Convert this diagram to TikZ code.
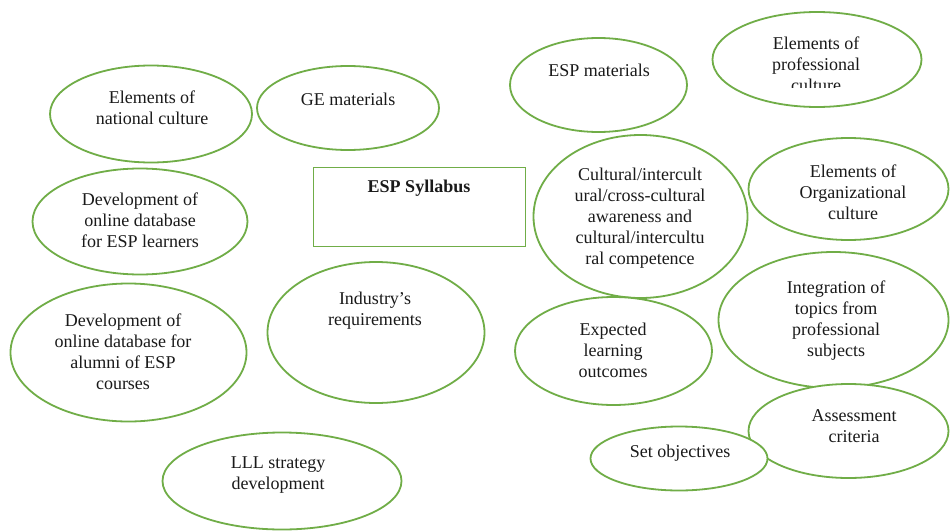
\documentclass[tikz,border=0pt]{standalone}
\usepackage{fontspec}
\setmainfont{Liberation Serif}
\usetikzlibrary{shapes.geometric}
\definecolor{bubgreen}{HTML}{70AD47}
\definecolor{txt}{HTML}{1A1A1A}
\tikzset{
  bubble/.style={ellipse, draw=bubgreen, line width=1.8pt, fill=white, inner sep=0pt},
  lbl/.style={align=center, text=txt, inner sep=0pt, font=\fontsize{18}{21}\selectfont},
  titlebox/.style={rectangle, draw=bubgreen, line width=1.8pt, fill=white, inner sep=0pt}
}
\begin{document}
\begin{tikzpicture}[x=1pt,y=-1pt]
\useasboundingbox[fill=white] (0,0) rectangle (950,530);
% ellipses
\node[bubble, minimum width=202pt, minimum height=97pt] (e1) at (151,114) {};
\node[bubble, minimum width=182pt, minimum height=84pt] (e2) at (348,108) {};
\node[bubble, minimum width=177pt, minimum height=94pt] (e3) at (598.5,85) {};
\node[bubble, minimum width=209pt, minimum height=95pt] (e4) at (817,59.5) {};
\node[titlebox, minimum width=212pt, minimum height=79pt] (sy) at (419.5,207) {};
\node[bubble, minimum width=200pt, minimum height=102pt] (e7) at (848.5,189) {};
\node[bubble, minimum width=214pt, minimum height=163pt] (e6) at (640.5,216.5) {};
\node[bubble, minimum width=215pt, minimum height=106pt] (e8) at (140,221.5) {};
\node[bubble, minimum width=236pt, minimum height=138pt] (e9) at (128.5,352.5) {};
\node[bubble, minimum width=217pt, minimum height=141pt] (e10) at (376,332.5) {};
\node[bubble, minimum width=197pt, minimum height=108pt] (e11) at (613.5,351) {};
\node[bubble, minimum width=230pt, minimum height=136pt] (e12) at (833.5,320) {};
\node[bubble, minimum width=200pt, minimum height=94pt] (e13) at (848.5,431) {};
\node[bubble, minimum width=177pt, minimum height=64pt] (e14) at (679,458.5) {};
\node[bubble, minimum width=239pt, minimum height=97pt] (e15) at (282,481) {};
% texts
\node[lbl] (t1) at (152,108) {Elements of\\national culture};
\node[lbl] (t2) at (348,99) {GE materials};
\node[lbl] (t3) at (599,70) {ESP materials};
\begin{scope}
\clip (700,0) rectangle (940,87);
\node[lbl] (t4) at (816,64) {Elements of\\professional\\culture};
\end{scope}
\node[lbl, font=\bfseries\fontsize{18}{21}\selectfont] (ts) at (419,188) {ESP Syllabus};
\node[lbl] (t6) at (640,218) {Cultural/intercult\\ural/cross-cultural\\awareness and\\cultural/intercultu\\ral competence};
\node[lbl] (t7) at (853,192) {Elements of\\Organizational\\culture};
\node[lbl] (t8) at (140,220) {Development of\\online database\\for ESP learners};
\node[lbl] (t9) at (123,352) {Development of\\online database for\\alumni of ESP\\courses};
\node[lbl] (t10) at (375,311) {Industry’s\\requirements};
\node[lbl] (t11) at (613,350) {Expected\\learning\\outcomes};
\node[lbl] (t12) at (836,321) {Integration of\\topics from\\professional\\subjects};
\node[lbl] (t13) at (854,426) {Assessment\\criteria};
\node[lbl] (t14) at (680,453) {Set objectives};
\node[lbl] (t15) at (278,475) {LLL strategy\\development};
\end{tikzpicture}
\end{document}
